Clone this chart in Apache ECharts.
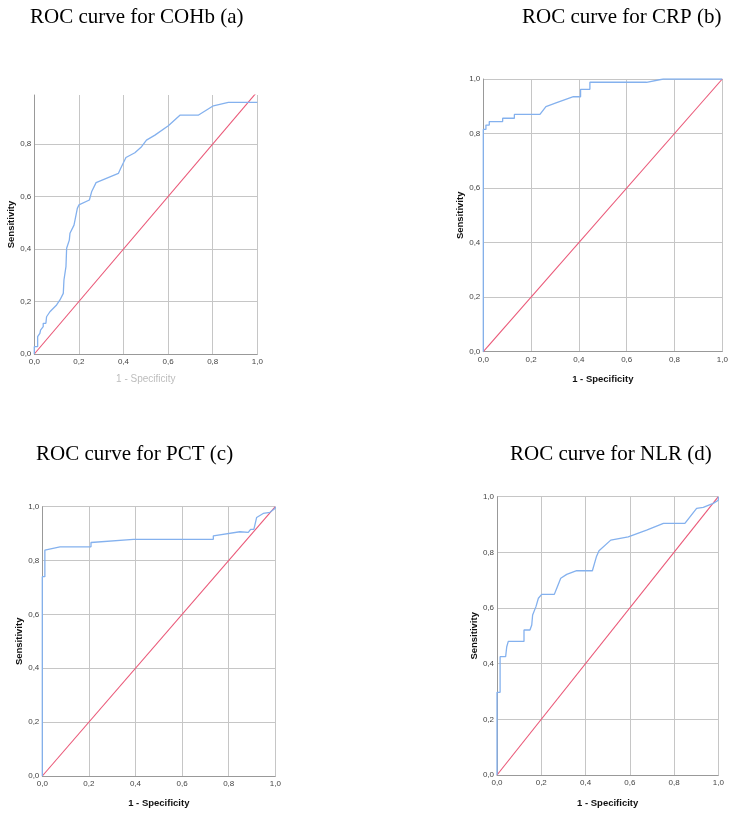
<!DOCTYPE html>
<html>
<head>
<meta charset="utf-8">
<script src="https://cdn.jsdelivr.net/npm/echarts@6/dist/echarts.min.js"></script>
<style>
html,body{margin:0;padding:0;background:#fff;}
#chart{width:739px;height:820px;}
</style>
</head>
<body>
<div id="chart"></div>
<script>
// Panel titles
const panelTitles = ['ROC curve for COHb (a)', 'ROC curve for CRP (b)', 'ROC curve for PCT (c)', 'ROC curve for NLR (d)'];
const xAxisName = '1 - Specificity';
const yAxisName = 'Sensitivity';
const tickStep = 0.2;

// ROC curves: [1 - specificity, sensitivity]
const rocCOHb = [
  [0,0],[0,0.028],[0.015,0.028],[0.015,0.066],[0.025,0.079],[0.028,0.091],[0.040,0.104],
  [0.040,0.117],[0.052,0.117],[0.055,0.142],[0.070,0.161],[0.100,0.187],[0.115,0.206],
  [0.130,0.231],[0.133,0.282],[0.142,0.333],[0.145,0.403],[0.157,0.434],[0.160,0.460],
  [0.178,0.491],[0.193,0.555],[0.200,0.568],[0.247,0.587],[0.257,0.618],[0.277,0.653],
  [0.377,0.688],[0.387,0.707],[0.411,0.749],[0.451,0.767],[0.481,0.790],[0.503,0.815],
  [0.541,0.834],[0.601,0.870],[0.653,0.910],[0.735,0.910],[0.803,0.946],[0.870,0.959],[1.0,0.959]
];
const rocCRP = [
  [0,0],[0,0.815],[0.011,0.815],[0.011,0.831],[0.025,0.831],[0.025,0.844],[0.081,0.844],
  [0.081,0.856],[0.130,0.856],[0.130,0.870],[0.237,0.870],[0.262,0.899],[0.307,0.913],
  [0.377,0.935],[0.407,0.935],[0.407,0.962],[0.446,0.962],[0.446,0.988],[0.683,0.988],
  [0.753,1.0],[1,1]
];
const rocPCT = [
  [0,0],[0,0.74],[0.011,0.74],[0.011,0.839],[0.076,0.851],[0.209,0.851],[0.209,0.867],
  [0.391,0.879],[0.734,0.879],[0.734,0.892],[0.848,0.907],[0.884,0.905],[0.894,0.916],
  [0.908,0.916],[0.920,0.960],[0.948,0.975],[0.977,0.979],[1.0,0.994],[1,1]
];
const rocNLR = [
  [0,0],[0,0.297],[0.014,0.297],[0.014,0.425],[0.039,0.425],[0.044,0.461],[0.051,0.480],
  [0.122,0.480],[0.122,0.521],[0.149,0.521],[0.157,0.539],[0.161,0.575],[0.176,0.605],
  [0.187,0.635],[0.202,0.649],[0.259,0.649],[0.270,0.671],[0.288,0.707],[0.315,0.721],
  [0.360,0.734],[0.431,0.734],[0.449,0.784],[0.461,0.806],[0.514,0.844],[0.593,0.856],
  [0.676,0.880],[0.752,0.904],[0.849,0.904],[0.902,0.958],[0.932,0.962],[0.977,0.976],
  [1.0,0.987],[1,1]
];
const referenceLine = [[0,0],[1,1]];
const yMaxes = [0.987, 1, 1, 1];

const curves = [rocCOHb, rocCRP, rocPCT, rocNLR];

const grids = [
  {left: 34.3, top: 95, width: 223, height: 259},
  {left: 483.3, top: 79, width: 239, height: 272.7},
  {left: 42.3, top: 506.7, width: 233, height: 269.3},
  {left: 497, top: 496.7, width: 221.3, height: 278.3}
];
const titlePos = [
  {left: 30, top: 7},
  {left: 522, top: 7},
  {left: 36, top: 444},
  {left: 510, top: 444}
];
const xNameGap = [20, 23, 22, 23];
const yNameGap = [16, 18, 18, 17];

function fmt(v){
  const k = v / tickStep;
  if (Math.abs(k - Math.round(k)) > 1e-6) return '';
  return v.toFixed(1).replace('.', ',');
}

const gridColor = '#c6c6c6';

const option = {
  animation: false,
  backgroundColor: '#fff',
  title: panelTitles.map((t, i) => ({
    text: t, left: titlePos[i].left, top: titlePos[i].top, padding: 0,
    textStyle: {fontFamily: 'Liberation Serif', fontSize: 21, fontWeight: 'normal', color: '#000'}
  })),
  grid: grids.map(g => Object.assign({outerBoundsMode: 'none', containLabel: false, show: false}, g)),
  xAxis: grids.map((g, i) => ({
    type: 'value', gridIndex: i, min: 0, max: 1, interval: tickStep,
    name: xAxisName, nameLocation: 'middle', nameGap: xNameGap[i],
    nameTextStyle: i === 0
      ? {fontFamily: 'Liberation Sans', fontSize: 10, color: '#bdbdbd', fontWeight: 'normal'}
      : {fontFamily: 'Liberation Sans', fontSize: 9.5, color: '#111', fontWeight: 'bold'},
    axisLine: {show: true, lineStyle: {color: '#999', width: 1}},
    axisTick: {show: false},
    axisLabel: {formatter: fmt, fontFamily: 'Liberation Sans', fontSize: 8, color: '#444', margin: 4},
    splitLine: {show: true, lineStyle: {color: gridColor, width: 1}}
  })),
  yAxis: grids.map((g, i) => ({
    type: 'value', gridIndex: i, min: 0, max: yMaxes[i], interval: tickStep,
    name: yAxisName, nameLocation: 'middle', nameGap: yNameGap[i], nameRotate: 90,
    nameTextStyle: {fontFamily: 'Liberation Sans', fontSize: 9.5, color: '#111', fontWeight: 'bold'},
    axisLine: {show: true, lineStyle: {color: '#999', width: 1}},
    axisTick: {show: false},
    axisLabel: {formatter: fmt, fontFamily: 'Liberation Sans', fontSize: 8, color: '#444', margin: 3},
    splitLine: {show: true, lineStyle: {
      color: i === 0 ? [gridColor, gridColor, gridColor, gridColor, gridColor, 'rgba(0,0,0,0)'] : gridColor,
      width: 1}}
  })),
  series: []
};

curves.forEach((c, i) => {
  option.series.push({
    type: 'line', xAxisIndex: i, yAxisIndex: i, data: referenceLine,
    symbol: 'none', clip: true, silent: true,
    lineStyle: {color: '#ea5878', width: 1.1}
  });
  option.series.push({
    type: 'line', xAxisIndex: i, yAxisIndex: i, data: c,
    symbol: 'none', clip: true, silent: true,
    lineStyle: {color: '#84b1ee', width: 1.3}
  });
});

const chart = echarts.init(document.getElementById('chart'), null, {renderer: 'canvas'});
chart.setOption(option);
</script>
</body>
</html>
